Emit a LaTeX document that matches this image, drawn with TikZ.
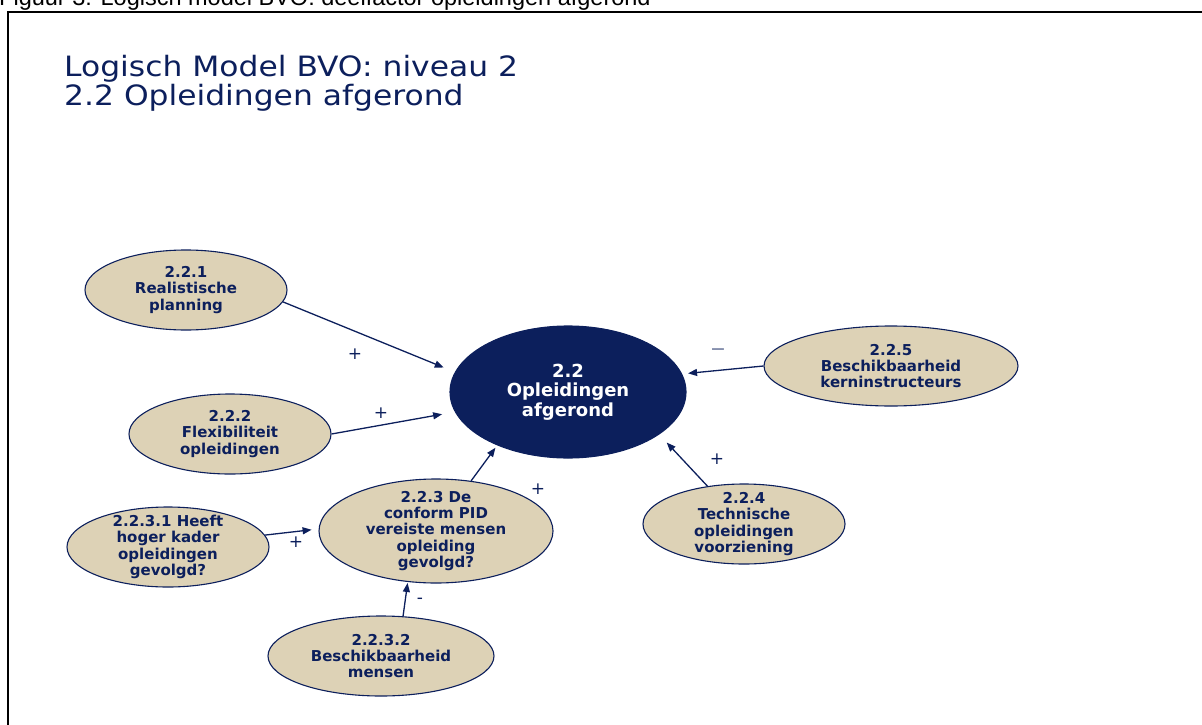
\documentclass[tikz,border=0pt]{standalone}
\usepackage{fontspec}
\setmainfont{DejaVu Sans}
\newfontfamily\capfont{Liberation Sans}
\newfontfamily\headfont[FakeStretch=1.12]{DejaVu Sans}
\usetikzlibrary{shapes.geometric,arrows.meta}
\definecolor{navy}{RGB}{12,31,92}
\definecolor{tan}{RGB}{221,210,182}
\tikzset{
  bub/.style={ellipse, draw=navy, line width=1.1pt, fill=tan, inner sep=0pt},
  hub/.style={ellipse, draw=navy, line width=1.1pt, fill=navy, inner sep=0pt},
  txt/.style={font=\bfseries\fontsize{15}{16.4}\selectfont, align=center, text=navy, inner sep=0pt},
  hubtxt/.style={font=\bfseries\fontsize{18}{19.5}\selectfont, align=center, text=white, inner sep=0pt},
  arr/.style={draw=navy, line width=1.3pt, -{Triangle[length=9pt,width=7pt]}},
  sign/.style={font=\fontsize{17}{17}\selectfont, text=navy, inner sep=0pt},
  ttl/.style={font=\headfont\fontsize{28}{28}\selectfont, text=navy, inner sep=0pt, anchor=base west}
}
\begin{document}
\begin{tikzpicture}[x=1pt, y=-1pt]
\useasboundingbox (0,0) rectangle (1202,725);
\clip (0,0) rectangle (1202,725);

% caption above the frame
\node[anchor=base west, inner sep=0pt, font=\capfont\fontsize{23.5}{28}\selectfont] (caption) at (-1,6)
  {Figuur 3: Logisch model BVO: deelfactor opleidingen afgerond};
% frame
\draw[line width=2pt] (7.5,740) |- (1215,12);

% heading
\node[ttl] (title1) at (64,77) {Logisch Model BVO: niveau 2};
\node[ttl] (title2) at (64,105) {2.2 Opleidingen afgerond};

% central factor
\node[hub, minimum width=236pt, minimum height=132pt,
      label={[hubtxt]center:{2.2\\Opleidingen\\afgerond}}] (n22) at (568,392) {};

% contributing factors
\node[bub, minimum width=202pt, minimum height=80pt,
      label={[txt]center:{2.2.1\\Realistische\\planning}}] (n221) at (186,290) {};
\node[bub, minimum width=202pt, minimum height=80pt,
      label={[txt]center:{2.2.2\\Flexibiliteit\\opleidingen}}] (n222) at (230,434) {};
\node[bub, minimum width=234pt, minimum height=104pt,
      label={[txt]center:{2.2.3 De\\conform PID\\vereiste mensen\\opleiding\\gevolgd?}}] (n223) at (436,531) {};
\node[bub, minimum width=202pt, minimum height=80pt,
      label={[txt]center:{2.2.4\\Technische\\opleidingen\\voorziening}}] (n224) at (744,524) {};
\node[bub, minimum width=254pt, minimum height=80pt,
      label={[txt]center:{2.2.5\\Beschikbaarheid\\kerninstructeurs}}] (n225) at (891,366) {};
\node[bub, minimum width=202pt, minimum height=80pt,
      label={[txt]center:{2.2.3.1 Heeft\\hoger kader\\opleidingen\\gevolgd?}}] (n2231) at (168,547) {};
\node[bub, minimum width=226pt, minimum height=80pt,
      label={[txt]center:{2.2.3.2\\Beschikbaarheid\\mensen}}] (n2232) at (381,656) {};

% influences
\draw[arr, shorten >=12pt] (n221.-7) -- (n22.170.5);
\draw[arr, shorten >=13pt] (n222.0) -- (n22.190.4);
\draw[arr, shorten >=3pt] (n223.55) -- (n22.217);
\draw[arr, shorten >=11pt] (n224.134) -- (n22.-25);
\draw[arr, shorten >=6pt] (n225.180) -- (n22.9.5);
\draw[arr, shorten >=7pt] (n2231.7.6) -- (n223.179.5);
\draw[arr, shorten >=1pt] (n2232.61) -- (n223.241.7);

% signs of the influences
\node[sign] (s1) at (355,354) {+};
\node[sign] (s2) at (381,413) {+};
\node[sign, text=navy!60, font=\fontsize{19}{19}\selectfont] (s3) at (718,352) {−};
\node[sign] (s4) at (717,459) {+};
\node[sign] (s5) at (538,489) {+};
\node[sign] (s6) at (296,542) {+};
\node[sign] (s7) at (420,601) {-};
\end{tikzpicture}
\end{document}
